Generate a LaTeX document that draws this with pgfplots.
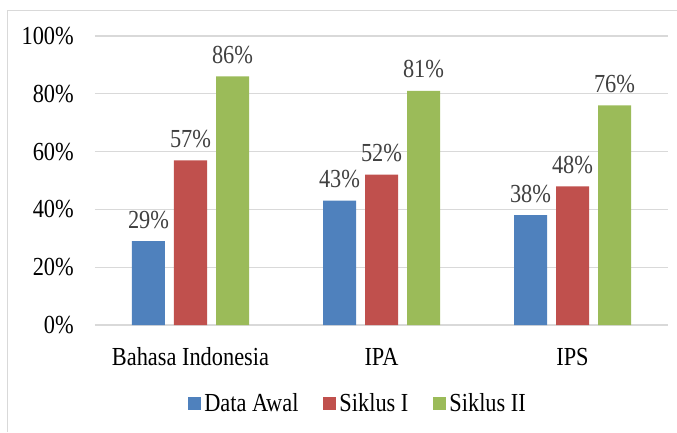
\documentclass[border=0pt]{standalone}
\usepackage{fontspec}
\setmainfont{Liberation Serif}[FakeStretch=0.86]
\usepackage{pgfplots}
\pgfplotsset{compat=1.18}
\definecolor{cawal}{HTML}{4F81BD}
\definecolor{csik1}{HTML}{C0504D}
\definecolor{csik2}{HTML}{9BBB59}
\definecolor{gridc}{HTML}{D9D9D9}
\definecolor{lbl}{HTML}{404040}
\begin{document}
\begin{tikzpicture}
\useasboundingbox (-95pt,-107pt) rectangle (582pt,325pt);
\draw[gridc, line width=1pt] (-87pt,-107pt) -- (-87pt,315pt) -- (582pt,315pt);
\begin{axis}[
  at={(0pt,0pt)}, anchor=south west,
  scale only axis, width=573pt, height=289pt,
  xmin=-0.5, xmax=2.5, ymin=0, ymax=100,
  ybar=9pt, bar width=33pt,
  xtick={0,1,2},
  xticklabels={Bahasa Indonesia, IPA, IPS},
  ytick={0,20,...,100},
  yticklabel={\pgfmathprintnumber{\tick}\%},
  /pgf/number format/assume math mode=true,
  major tick length=0pt,
  axis line style={draw=none},
  ymajorgrids, grid style={gridc, line width=1.3pt},
  font=\fontsize{26}{31}\selectfont,
  xticklabel style={anchor=base, yshift=-40pt, inner sep=0pt},
  yticklabel style={anchor=east, xshift=-21pt, inner sep=0pt},
  nodes near coords={\pgfmathprintnumber{\pgfplotspointmeta}\%},
  nodes near coords style={anchor=base, yshift=13pt, inner sep=0pt, text=lbl},
  legend style={at={(axis description cs:0.46,-0.27)}, anchor=center,
    draw=none, fill=none, legend columns=-1,
    /tikz/every even column/.append style={column sep=22pt},
    nodes={inner sep=3pt}},
  legend image code/.code={\fill[#1] (0pt,-6.5pt) rectangle (13pt,6.5pt);},
  clip=false,
]
\addplot[fill=cawal, draw=none] coordinates {(0,29) (1,43) (2,38)};
\addplot[fill=csik1, draw=none] coordinates {(0,57) (1,52) (2,48)};
\addplot[fill=csik2, draw=none] coordinates {(0,86) (1,81) (2,76)};
\legend{Data Awal, Siklus I, Siklus II}
\end{axis}
\end{tikzpicture}
\end{document}
